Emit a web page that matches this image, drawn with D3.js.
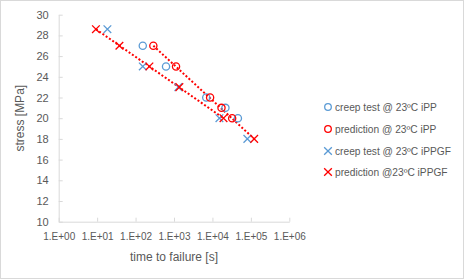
<!DOCTYPE html>
<html>
<head>
<meta charset="utf-8">
<style>
  body { margin: 0; background: #fff; }
  text { font-family: "Liberation Sans", Arial, sans-serif; fill: #595959; }
</style>
</head>
<body>
<svg width="465" height="280"></svg>
<script src="https://d3js.org/d3.v7.min.js"></script>
<script>
    // time to failure [s] / stress [MPa]
    var creepIPP_t = [154, 620, 6900, 21800, 46000],
        creepIPP_s = [27, 25, 22, 21, 20];
    var predIPP_t = [290, 1130, 8700, 17200, 32600],
        predIPP_s = [27, 25, 22, 21, 20];
    var creepGF_t = [18.5, 154, 1300, 15200, 81000],
        creepGF_s = [28.6, 25, 23, 20, 18];
    var predGF_t = [9.3, 38, 229, 1380, 19400, 122000],
        predGF_s = [28.6, 27, 25, 23, 20, 18];
    // dotted prediction lines (end points)
    var lineIPP_t = [290, 122000], lineIPP_s = [27, 18];
    var lineGF_t = [9.3, 19400], lineGF_s = [28.6, 20];

    var xTicks = [1, 10, 100, 1000, 10000, 100000, 1000000],
        yTicks = [10, 12, 14, 16, 18, 20, 22, 24, 26, 28, 30];
    var legendLabels = ["creep test @ 23ºC iPP", "prediction @ 23ºC iPP",
        "creep test @ 23ºC iPPGF", "prediction @23ºC iPPGF"];

    var blue = "#5b9bd5", red = "#ff0000", axisCol = "#d9d9d9";

    var svg = d3.select("svg"),
        margin = { top: 14.7, left: 58.7 },
        width = 230.6,
        height = 207;

    svg.append("rect")
        .attr("x", 0.5).attr("y", 0.5)
        .attr("width", 463).attr("height", 278)
        .attr("fill", "#fff").attr("stroke", axisCol);

    var g = svg.append("g").attr("transform", "translate(" + margin.left + "," + margin.top + ")");

    var x = d3.scaleLog().domain([1, 1e6]).range([0, width]),
        y = d3.scaleLinear().domain([10, 30]).range([height, 0]);

    function zip(ts, ss) { return ts.map(function (t, i) { return [t, ss[i]]; }); }

    // axes
    var xAxis = g.append("g")
        .attr("transform", "translate(0," + height + ")")
        .call(d3.axisBottom(x).tickValues(xTicks).tickSizeInner(-4).tickSizeOuter(0)
            .tickFormat(function (d) {
                var e = Math.round(Math.log10(d));
                return "1.E+" + (e < 10 ? "0" : "") + e;
            }));
    xAxis.selectAll("text").attr("y", 11).attr("dy", "0.71em").style("font-size", "10px").attr("fill", "#595959");

    var yAxis = g.append("g")
        .call(d3.axisLeft(y).tickValues(yTicks).tickSizeInner(-4).tickSizeOuter(0));
    yAxis.selectAll("text").attr("x", -10).style("font-size", "11px").attr("fill", "#595959");

    [xAxis, yAxis].forEach(function (a) {
        a.select(".domain").attr("stroke", axisCol);
        a.selectAll(".tick line").attr("stroke", axisCol);
        a.attr("font-family", null);
    });

    svg.append("text")
        .attr("x", margin.left + width / 2).attr("y", 261)
        .attr("text-anchor", "middle")
        .style("font-size", "12px")
        .text("time to failure [s]");

    svg.append("text")
        .attr("transform", "translate(24," + (margin.top + height / 2) + ") rotate(-90)")
        .attr("text-anchor", "middle")
        .style("font-size", "12px")
        .text("stress [MPa]");

    // dotted lines
    var line = d3.line().x(function (d) { return x(d[0]); }).y(function (d) { return y(d[1]); });
    [zip(lineIPP_t, lineIPP_s), zip(lineGF_t, lineGF_s)].forEach(function (pts) {
        g.append("path")
            .datum(pts)
            .attr("fill", "none")
            .attr("stroke", red)
            .attr("stroke-width", 2)
            .attr("stroke-dasharray", "2,2")
            .attr("d", line);
    });

    function circles(pts, col) {
        g.append("g").selectAll("circle")
            .data(pts).enter().append("circle")
            .attr("cx", function (d) { return x(d[0]); })
            .attr("cy", function (d) { return y(d[1]); })
            .attr("r", 3.6)
            .attr("fill", "none")
            .attr("stroke", col)
            .attr("stroke-width", 1.3);
    }
    var cross = d3.symbol().type(d3.symbolX).size(40);
    function crosses(pts, col) {
        g.append("g").selectAll("path")
            .data(pts).enter().append("path")
            .attr("transform", function (d) { return "translate(" + x(d[0]) + "," + y(d[1]) + ")"; })
            .attr("d", cross)
            .attr("fill", "none")
            .attr("stroke", col)
            .attr("stroke-width", 1.3);
    }

    circles(zip(creepIPP_t, creepIPP_s), blue);
    circles(zip(predIPP_t, predIPP_s), red);
    crosses(zip(creepGF_t, creepGF_s), blue);
    crosses(zip(predGF_t, predGF_s), red);

    // legend
    var legY = [107, 129, 151, 172], legX = 328;
    var leg = svg.append("g");
    legendLabels.forEach(function (lab, i) {
        var col = (i % 2 === 0) ? blue : red;
        if (i < 2) {
            leg.append("circle").attr("cx", legX).attr("cy", legY[i]).attr("r", 3.3)
                .attr("fill", "none").attr("stroke", col).attr("stroke-width", 1.3);
        } else {
            leg.append("path").attr("transform", "translate(" + legX + "," + legY[i] + ")")
                .attr("d", cross).attr("fill", "none").attr("stroke", col).attr("stroke-width", 1.3);
        }
        leg.append("text").attr("x", legX + 7).attr("y", legY[i]).attr("dy", "0.35em")
            .style("font-size", "10.2px").text(lab);
    });
</script>
</body>
</html>
